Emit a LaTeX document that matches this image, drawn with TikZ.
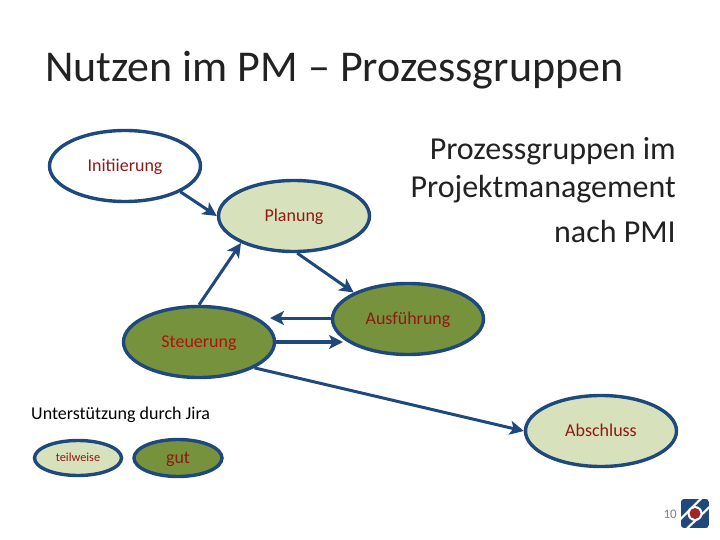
\documentclass[tikz,border=0pt]{standalone}
\usepackage{fontspec}
\setmainfont{Carlito}
\usetikzlibrary{shapes.geometric,arrows.meta}
\definecolor{strokeblue}{HTML}{1F497D}
\definecolor{lightgreen}{HTML}{D7E2BD}
\definecolor{olive}{HTML}{76923C}
\definecolor{labelred}{HTML}{8E1A12}
\definecolor{inkdark}{HTML}{222222}
\tikzset{
  x=1pt,y=-1pt,
  phase/.style={ellipse,draw=strokeblue,line width=3.4pt,inner sep=0pt,minimum width=#1,text=labelred,text height=11pt,text depth=0pt,font=\fontsize{18}{20}\selectfont},
  phasebig/.style={phase=151pt,minimum height=71pt},
  light/.style={fill=lightgreen},
  dark/.style={fill=olive},
  flow/.style={draw=strokeblue,line width=3pt,-{Stealth[length=14pt,width=14pt,inset=3.5pt]}},
  heading/.style={anchor=base west,font=\fontsize{44}{48}\selectfont,text=inkdark,inner sep=0pt},
  sidetext/.style={anchor=base east,font=\fontsize{32}{36}\selectfont,text=inkdark,inner sep=0pt}
}
\begin{document}
\begin{tikzpicture}
\useasboundingbox (0,0) rectangle (720,540);
\fill[white] (0,0) rectangle (720,540);
\node[heading] (title) at (45,82) {Nutzen im PM – Prozessgruppen};
\node[sidetext] (s1) at (676,160) {Prozessgruppen im};
\node[sidetext] (s2) at (676,198) {Projektmanagement};
\node[sidetext] (s3) at (676,243) {nach PMI};

\node[phasebig,fill=white] (init) at (125,166) {Initiierung};
\node[phasebig,light] (plan) at (294,216) {Planung};
\node[phasebig,dark] (ausf) at (408,319) {Ausführung};
\node[phasebig,dark,text=labelred!70!red] (steu) at (199,342) {Steuerung};
\node[phasebig,light] (absch) at (601,431) {Abschluss};

\coordinate (toSteu) at (270,318);
\coordinate (toAusf) at (343,342);
\draw[flow] (init.-25) -- (plan.180);
\draw[flow] (steu.90) -- (plan.-153);
\draw[flow] (plan.-85) -- (ausf.154);
\draw[flow] (ausf.west |- toSteu) -- (toSteu);
\draw[flow,line width=3.8pt] (steu.east) -- (toAusf);
\draw[flow] (steu.-25) -- (absch.180);

\node[anchor=base west,inner sep=0pt,font=\fontsize{18}{20}\selectfont,text=black] (jira) at (31,419) {Unterstützung durch Jira};
\node[phase=87pt,minimum height=35pt,light,text height=7.4pt,font=\fontsize{12.3}{14}\selectfont] (teil) at (78,458) {teilweise};
\node[phase=88pt,minimum height=37pt,dark,font=\fontsize{18}{20}\selectfont] (gut) at (178,458) {gut};

\node[anchor=base east,inner sep=0pt,font=\fontsize{13}{14}\selectfont,text=black!50] (page) at (677,518) {10};
\begin{scope}
\clip[rounded corners=3pt] (681,499) rectangle (709,528);
\fill[strokeblue] (681,499) rectangle (709,528);
\fill[white] (681,517) -- (699,499) -- (702,499) -- (681,520) -- cycle;
\fill[white] (709,509) -- (689,528) -- (686,528) -- (709,506) -- cycle;
\end{scope}
\fill[white] (695,513.5) circle (7.5pt);
\fill[red!55!black!85!white] (695,513.5) circle (5.5pt);
\end{tikzpicture}
\end{document}
